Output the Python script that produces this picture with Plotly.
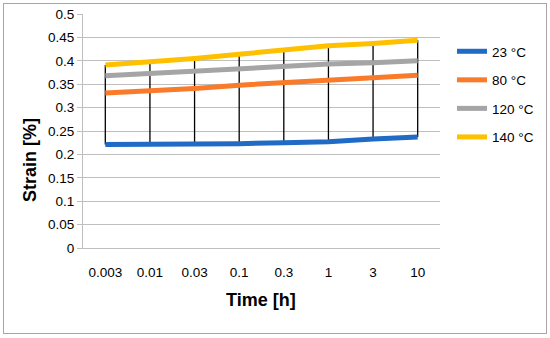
import plotly.graph_objects as go

times = ["0.003", "0.01", "0.03", "0.1", "0.3", "1", "3", "10"]
series_names = ["23 °C", "80 °C", "120 °C", "140 °C"]
strain_23 = [0.221, 0.221, 0.222, 0.223, 0.225, 0.227, 0.233, 0.237]
strain_80 = [0.331, 0.335, 0.341, 0.348, 0.354, 0.359, 0.364, 0.369]
strain_120 = [0.368, 0.373, 0.379, 0.384, 0.389, 0.393, 0.396, 0.400]
strain_140 = [0.391, 0.397, 0.405, 0.414, 0.423, 0.432, 0.437, 0.444]
colors = ["#1F6BC6", "#F97B2A", "#A5A5A5", "#FFC000"]

all_series = [strain_23, strain_80, strain_120, strain_140]

W, H = 550, 338
L, R, T, B = 83, 110, 14, 90
pw, ph = W - L - R, H - T - B

def px_x(x):
    return (x - L) / pw

def px_y(y):
    return (H - B - y) / ph

FONT = "Liberation Sans"

fig = go.Figure()

# high-low lines
hx, hy = [], []
for i, t in enumerate(times):
    vals = [s[i] for s in all_series]
    hx += [t, t, None]
    hy += [max(vals), min(vals), None]
fig.add_trace(go.Scatter(x=hx, y=hy, mode="lines", line=dict(color="#000000", width=1.3),
                         showlegend=False, hoverinfo="skip"))

for name, vals, c in zip(series_names, all_series, colors):
    fig.add_trace(go.Scatter(x=times, y=vals, mode="lines", name=name, legendgroup=name,
                             line=dict(color=c, width=5)))

border = dict(color="#A6A6A6", width=1)
fig.update_layout(
    width=W, height=H,
    margin=dict(l=L, r=R, t=T, b=B, autoexpand=False),
    plot_bgcolor="white", paper_bgcolor="white",
    font=dict(family=FONT, size=13.5, color="#000000"),
    showlegend=True,
    legend=dict(x=px_x(452), y=px_y(36), xanchor="left", yanchor="top",
                font=dict(family=FONT, size=13.5, color="#000000"),
                tracegroupgap=8, traceorder="grouped", bgcolor="rgba(0,0,0,0)"),
    xaxis=dict(type="category", range=[-0.5, 7.5], showgrid=False,
               showline=True, linecolor="#BFBFBF", linewidth=1,
               ticks="", ticklabelstandoff=12, zeroline=False, automargin=False,
               tickfont=dict(family=FONT, size=13.5, color="#000000")),
    yaxis=dict(range=[0, 0.5], dtick=0.05, tick0=0, showgrid=True, gridcolor="#BFBFBF", gridwidth=1,
               showline=True, linecolor="#BFBFBF", linewidth=1, zeroline=False, automargin=False,
               ticks="outside", ticklen=5, tickcolor="#BFBFBF",
               tickfont=dict(family=FONT, size=13.5, color="#000000")),
    shapes=[
        dict(type="line", xref="paper", yref="paper", x0=px_x(3), x1=px_x(546), y0=px_y(3.5), y1=px_y(3.5), line=border),
        dict(type="line", xref="paper", yref="paper", x0=px_x(3), x1=px_x(546), y0=px_y(333.5), y1=px_y(333.5), line=border),
        dict(type="line", xref="paper", yref="paper", x0=px_x(3.5), x1=px_x(3.5), y0=px_y(3), y1=px_y(334), line=border),
        dict(type="line", xref="paper", yref="paper", x0=px_x(546.5), x1=px_x(546.5), y0=px_y(3), y1=px_y(334), line=border),
    ],
    annotations=[
        dict(text="<b>Time [h]</b>", xref="paper", yref="paper", x=px_x(261), y=px_y(300),
             xanchor="center", yanchor="middle", showarrow=False,
             font=dict(family=FONT, size=18, color="#000000")),
        dict(text="<b>Strain [%]</b>", xref="paper", yref="paper", x=px_x(30), y=px_y(160),
             xanchor="center", yanchor="middle", showarrow=False, textangle=-90,
             font=dict(family=FONT, size=18, color="#000000")),
    ],
)

fig.write_html("out.html", config={"displayModeBar": False},
               post_script="document.body.style.margin='0';document.body.style.overflow='hidden';")
